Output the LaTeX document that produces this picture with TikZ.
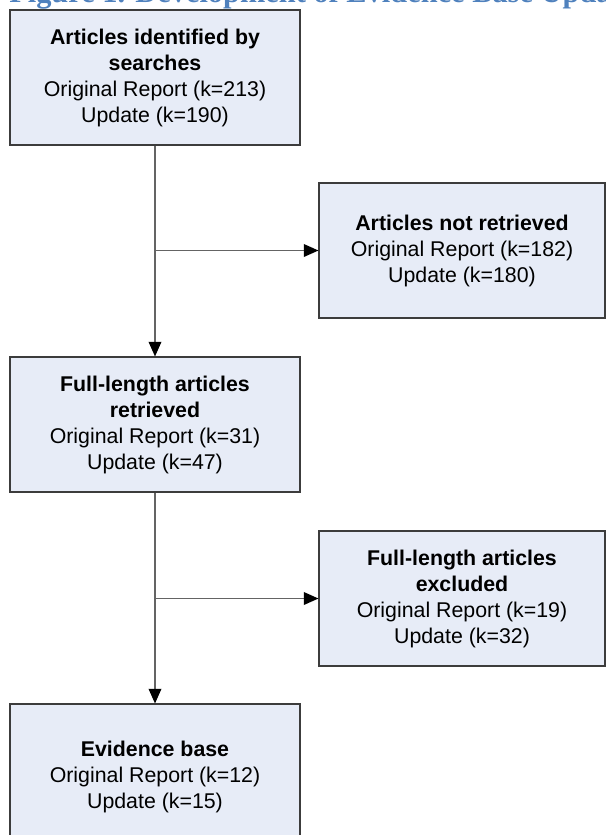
\documentclass[tikz,border=0pt]{standalone}
\usepackage{fontspec}
\setmainfont{Liberation Sans}
\newfontfamily\titlefont{Liberation Serif}
\usetikzlibrary{arrows.meta}
\definecolor{boxfill}{RGB}{231,236,247}
\definecolor{boxline}{RGB}{60,60,60}
\definecolor{connline}{RGB}{100,100,100}
\definecolor{titleblue}{RGB}{79,129,189}
\tikzset{
  x=0.75pt, y=-0.75pt,
  flowbox/.style={draw=boxline, fill=boxfill, line width=0.8pt, inner sep=0pt,
    align=center, font=\fontsize{16}{19.5}\selectfont},
  conn/.style={draw=connline, line width=1.1pt,
    -{Triangle[length=11pt,width=9.5pt,color=black,fill=black]}}
}
\begin{document}
\begin{tikzpicture}
\useasboundingbox (0,0) rectangle (606,835);
\clip (0,0) rectangle (606,835);
\node[anchor=base west, inner sep=0pt, text=titleblue,
  font=\titlefont\bfseries\fontsize{22.8}{26}\selectfont] (title) at (9,2.5)
  {Figure 1. Development of Evidence Base Update};
\node[flowbox, minimum width=217.5pt, minimum height=101.25pt] (b1) at (155,77.5)
  {\textbf{Articles identified by}\\\textbf{searches}\\Original Report (k=213)\\Update (k=190)};
\node[flowbox, minimum width=214.5pt, minimum height=101.25pt] (b2) at (462,250.5)
  {\textbf{Articles not retrieved}\\Original Report (k=182)\\Update (k=180)};
\node[flowbox, minimum width=217.5pt, minimum height=101.25pt] (b3) at (155,424.5)
  {\textbf{Full-length articles}\\\textbf{retrieved}\\Original Report (k=31)\\Update (k=47)};
\node[flowbox, minimum width=214.5pt, minimum height=101.25pt] (b4) at (462,598.5)
  {\textbf{Full-length articles}\\\textbf{excluded}\\Original Report (k=19)\\Update (k=32)};
\node[flowbox, minimum width=217.5pt, minimum height=109.5pt] (b5) at (155,777)
  {\textbf{Evidence base}\\Original Report (k=12)\\Update (k=15)};
\coordinate (j1) at (b1.south |- b2.west);
\coordinate (j2) at (b3.south |- b4.west);
\draw[conn] (b1.south) -- (b3.north);
\draw[conn] (j1) -- (b2.west);
\draw[conn] (b3.south) -- (b5.north);
\draw[conn] (j2) -- (b4.west);
\end{tikzpicture}
\end{document}
